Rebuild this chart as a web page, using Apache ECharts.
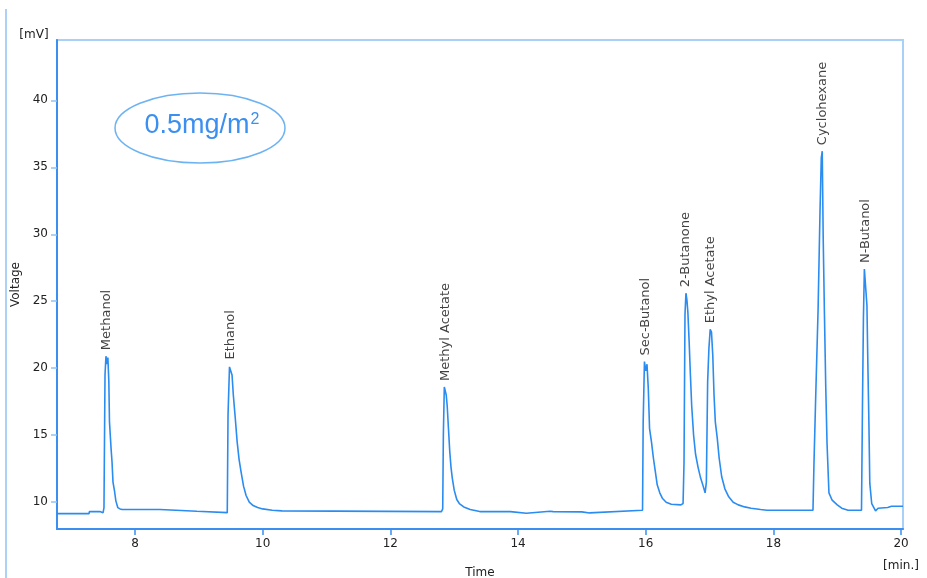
<!DOCTYPE html>
<html><head><meta charset="utf-8">
<script src="https://cdn.jsdelivr.net/npm/echarts@6/dist/echarts.min.js"></script>
<style>html,body{margin:0;padding:0;background:#fff}#c{width:927px;height:578px}</style>
</head><body><div id="c"></div>
<script>
// Chromatogram trace (time in min, signal in mV)
const times = [6.778, 7.28, 7.285, 7.45, 7.455, 7.50, 7.514, 7.53, 7.545, 7.56, 7.575, 7.59, 7.60, 7.625, 7.64, 7.655, 7.68, 7.70, 7.73, 7.765, 7.80,
  8.39, 8.40, 8.97, 8.98, 9.445,
  9.457, 9.48, 9.50, 9.52, 9.54, 9.57, 9.60, 9.63, 9.66, 9.70, 9.74, 9.79, 9.85, 9.92, 10.0, 10.15, 10.3,
  12.80, 12.82, 12.83, 12.845, 12.86, 12.875, 12.89, 12.91, 12.93, 12.95, 12.97, 13.0, 13.04, 13.08, 13.15, 13.25, 13.4,
  13.88, 13.89, 14.13, 14.14, 14.5, 14.52, 14.55, 15.0, 15.02, 15.12, 15.13,
  15.95, 15.96, 15.98, 16.00, 16.02, 16.04, 16.06, 16.09, 16.12, 16.15, 16.18, 16.22, 16.26, 16.32, 16.40, 16.55, 16.585,
  16.60, 16.615, 16.63, 16.645, 16.66, 16.68, 16.70, 16.72, 16.75, 16.78, 16.82, 16.86, 16.90, 16.93, 16.95,
  16.97, 16.99, 17.01, 17.03, 17.05, 17.07, 17.09, 17.12, 17.15, 17.19, 17.24, 17.30, 17.37, 17.45, 17.55, 17.65, 17.8, 17.9,
  18.62, 18.635, 18.66, 18.70, 18.73, 18.75, 18.765, 18.78, 18.80, 18.82, 18.84, 18.87, 18.92, 19.0, 19.07, 19.17,
  19.38, 19.395, 19.41, 19.425, 19.45, 19.465, 19.48, 19.495, 19.51, 19.54, 19.60, 19.64, 19.79, 19.85, 20.03];
const volts = [9.15, 9.15, 9.3, 9.3, 9.22, 9.22, 9.6, 19.5, 20.9, 20.3, 20.8, 19.0, 16.0, 14.0, 13.0, 11.5, 10.8, 10.1, 9.6, 9.5, 9.45,
  9.45, 9.32, 9.32, 9.22, 9.22,
  16.5, 20.1, 20.2, 19.5, 18.0, 16.3, 14.5, 13.2, 12.3, 11.2, 10.5, 10.0, 9.75, 9.6, 9.5, 9.4, 9.35,
  9.3, 9.5, 15.0, 18.6, 18.5, 18.0, 17.2, 15.5, 13.8, 12.6, 11.8, 10.9, 10.2, 9.9, 9.65, 9.45, 9.3,
  9.3, 9.17, 9.17, 9.3, 9.32, 9.38, 9.3, 9.28, 9.2, 9.2, 9.28,
  9.4, 16.0, 20.5, 19.8, 20.3, 18.5, 15.5, 14.5, 13.3, 12.3, 11.3, 10.7, 10.3, 10.0, 9.85, 9.8, 9.9,
  13.0, 24.0, 25.6, 25.1, 24.2, 22.0, 19.5, 17.2, 15.0, 13.6, 12.6, 11.8, 11.2, 10.7, 11.5,
  19.0, 21.5, 22.9, 22.7, 21.0, 18.0, 16.0, 14.8, 13.3, 11.9, 11.0, 10.4, 10.0, 9.8, 9.65, 9.55, 9.45, 9.4,
  9.4, 12.8, 17.4, 24.4, 31.7, 35.7, 36.2, 29.7, 23.9, 18.6, 14.4, 10.7, 10.15, 9.8, 9.55, 9.4,
  9.4, 17.1, 23.7, 27.4, 27.3, 24.7, 20.2, 16.2, 11.4, 9.9, 9.35, 9.55, 9.6, 9.7, 9.7];

// Peak annotations
const peakNames = ['Methanol', 'Ethanol', 'Methyl Acetate', 'Sec-Butanol', '2-Butanone', 'Ethyl Acetate', 'Cyclohexane', 'N-Butanol'];
const peakTimes = [7.56, 9.50, 12.86, 16.00, 16.63, 17.02, 18.765, 19.44];
const peakHeights = [20.9, 20.2, 18.6, 20.5, 25.6, 22.9, 36.2, 27.4];

// Axis ticks
const xTicks = [8, 10, 12, 14, 16, 18, 20];
const yTicks = [10, 15, 20, 25, 30, 35, 40];

const chart = echarts.init(document.getElementById('c'), null, {renderer: 'canvas'});
const FONT = 'DejaVu Sans';
const BLUE = '#3a8ff0';
const LIGHT = '#a9d0f7';

chart.setOption({
  animation: false,
  backgroundColor: '#fff',
  grid: {left: 57, right: 24, top: 40, bottom: 49, show: true, containLabel: false, outerBoundsMode: 'none',
    borderColor: LIGHT, borderWidth: 2, backgroundColor: 'transparent'},
  xAxis: {
    type: 'value', min: 6.778, max: 20.03,
    name: 'Time', nameLocation: 'middle', nameGap: 38,
    nameTextStyle: {fontFamily: FONT, fontSize: 12, color: '#222'},
    axisLine: {show: true, onZero: false, lineStyle: {color: BLUE, width: 2}},
    axisTick: {show: true, length: 6, customValues: xTicks, lineStyle: {color: BLUE, width: 1.5}},
    axisLabel: {customValues: xTicks, margin: 9, fontFamily: FONT, fontSize: 12, color: '#222'},
    splitLine: {show: false}
  },
  yAxis: {
    type: 'value', min: 8, max: 44.5,
    name: 'Voltage', nameLocation: 'middle', nameGap: 34, nameRotate: 90,
    nameTextStyle: {fontFamily: FONT, fontSize: 12, color: '#222'},
    axisLine: {show: true, onZero: false, lineStyle: {color: BLUE, width: 2}},
    axisTick: {show: true, length: 6, customValues: yTicks, lineStyle: {color: '#8fc2f5', width: 1.5}},
    axisLabel: {customValues: yTicks, margin: 9, fontFamily: FONT, fontSize: 12, color: '#222'},
    splitLine: {show: false}
  },
  series: [
    {
      type: 'line', data: times.map((t, i) => [t, volts[i]]),
      showSymbol: false, symbol: 'none',
      lineStyle: {color: '#2a8cf0', width: 1.6},
      z: 3
    },
    {
      type: 'scatter', symbolSize: 0.1,
      itemStyle: {color: 'rgba(0,0,0,0)'},
      data: peakNames.map((n, i) => ({name: n, value: [peakTimes[i], peakHeights[i]]})),
      label: {
        show: true, formatter: '{b}', position: 'top', distance: 6, rotate: 90,
        align: 'left', verticalAlign: 'middle',
        fontFamily: FONT, fontSize: 13, color: '#111'
      },
      z: 4
    }
  ],
  graphic: [
    {type: 'line', shape: {x1: 6, y1: 9, x2: 6, y2: 578}, style: {stroke: '#8fc2f5', lineWidth: 1.5}},
    {type: 'text', x: 34, y: 35, style: {text: '[mV]', font: '12px "DejaVu Sans"', fill: '#222', align: 'center', verticalAlign: 'middle'}},
    {type: 'text', x: 901, y: 566, style: {text: '[min.]', font: '12px "DejaVu Sans"', fill: '#222', align: 'center', verticalAlign: 'middle'}},
    {type: 'ellipse', shape: {cx: 200, cy: 128, rx: 85, ry: 35}, style: {fill: 'none', stroke: '#6db3f2', lineWidth: 1.5}},
    {type: 'text', x: 202, y: 126, style: {
      text: '{a|0.5mg/m}{s|2}', align: 'center', verticalAlign: 'middle',
      rich: {
        a: {fontFamily: 'Liberation Sans', fontSize: 27, fill: '#3a8ff0', color: '#3a8ff0'},
        s: {fontFamily: 'Liberation Sans', fontSize: 16, fill: '#3a8ff0', color: '#3a8ff0', verticalAlign: 'top', padding: [0, 0, 13, 1]}
      }
    }}
  ]
});
</script>
</body></html>
